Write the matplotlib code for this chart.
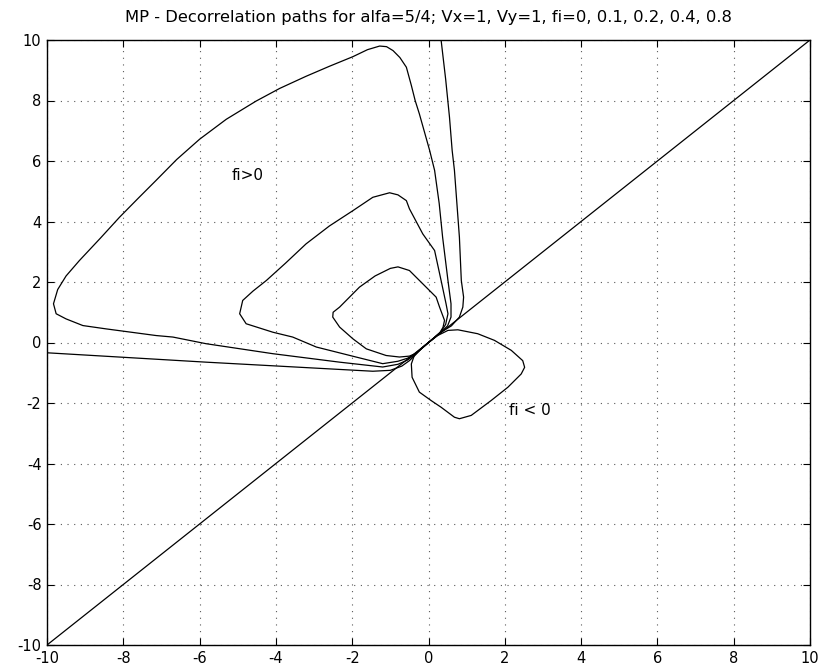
import matplotlib
matplotlib.use("Agg")
import matplotlib.pyplot as plt

plt.rcParams['font.family'] = ['DejaVu Sans']

title = "MP - Decorrelation paths for alfa=5/4; Vx=1, Vy=1, fi=0, 0.1, 0.2, 0.4, 0.8"
ticks = [-10, -8, -6, -4, -2, 0, 2, 4, 6, 8, 10]

# diagonal reference line
diag_x = [-10, 10]
diag_y = [-10, 10]

# open path (loop leaving the view)
open_x = [0.33, 0.45, 0.55, 0.62, 0.68, 0.75, 0.81, 0.86, 0.92, 0.90, 0.81, 0.60, 0.38, 0.18, 0.0,
          -0.2, -0.35, -0.5, -0.7, -1.0, -1.46, -5.83, -10.0]
open_y = [10.0, 8.7, 7.45, 6.35, 5.69, 4.5, 3.48, 2.05, 1.5, 1.17, 0.84, 0.55, 0.38, 0.19, 0.0,
          -0.22, -0.42, -0.6, -0.78, -0.92, -0.95, -0.65, -0.34]

# big loop
big_x = [0.0, -0.2, -0.38, -0.55, -0.8, -1.2, -2.33, -4.08, -5.83, -6.7, -7.14, -8.45, -9.06, -9.5,
         -9.76, -9.83, -9.72, -9.5, -9.15, -8.6, -8.1, -7.6, -7.14, -6.6, -6.0, -5.3, -4.52, -3.9,
         -3.21, -2.6, -1.98, -1.6, -1.28, -1.1, -0.93, -0.75, -0.58, -0.45, -0.35, -0.24, 0.03, 0.16,
         0.28, 0.37, 0.51, 0.59, 0.59, 0.5, 0.35, 0.17, 0.0]
big_y = [0.0, -0.22, -0.42, -0.58, -0.72, -0.81, -0.65, -0.37, -0.04, 0.18, 0.23, 0.45, 0.56, 0.78,
         0.95, 1.28, 1.75, 2.2, 2.71, 3.45, 4.14, 4.78, 5.36, 6.05, 6.72, 7.38, 7.98, 8.4,
         8.8, 9.13, 9.45, 9.68, 9.8, 9.78, 9.65, 9.42, 9.10, 8.5, 8.0, 7.56, 6.35, 5.69,
         4.6, 3.48, 2.05, 1.28, 0.84, 0.55, 0.37, 0.18, 0.0]

# middle loop
mid_x = [0.0, -0.2, -0.38, -0.55, -0.8, -1.2, -1.9, -2.94, -3.56, -4.08, -4.78, -4.95, -4.87, -4.6,
         -4.25, -3.75, -3.21, -2.6, -1.98, -1.46, -1.02, -0.8, -0.58, -0.5, -0.15, 0.16, 0.33, 0.46,
         0.51, 0.45, 0.33, 0.16, 0.0]
mid_y = [0.0, -0.22, -0.4, -0.52, -0.62, -0.70, -0.48, -0.15, 0.18, 0.34, 0.62, 0.95, 1.39, 1.7,
         2.05, 2.62, 3.26, 3.85, 4.36, 4.8, 4.95, 4.88, 4.69, 4.42, 3.59, 3.04, 2.05, 1.28,
         0.95, 0.6, 0.36, 0.17, 0.0]

# small loop
small_x = [0.0, -0.2, -0.35, -0.5, -0.76, -1.11, -1.63, -1.98, -2.33, -2.51, -2.5, -2.33, -2.07, -1.81,
           -1.4, -1.0, -0.8, -0.5, -0.15, 0.2, 0.29, 0.42, 0.38, 0.3, 0.15, 0.0]
small_y = [0.0, -0.21, -0.37, -0.45, -0.48, -0.43, -0.21, 0.12, 0.51, 0.84, 1.0, 1.17, 1.5, 1.83,
           2.2, 2.45, 2.5, 2.38, 1.94, 1.5, 1.17, 0.73, 0.5, 0.33, 0.16, 0.0]

# fi < 0 loop
neg_x = [0.0, -0.19, -0.37, -0.45, -0.43, -0.24, 0.07, 0.33, 0.68, 0.81, 1.12, 1.64, 2.08, 2.43, 2.52,
         2.47, 2.17, 1.73, 1.29, 0.77, 0.51, 0.24, 0.0]
neg_y = [0.0, -0.21, -0.42, -0.71, -1.15, -1.64, -1.92, -2.14, -2.47, -2.52, -2.41, -1.92, -1.48, -1.04,
         -0.82, -0.6, -0.26, 0.07, 0.29, 0.42, 0.40, 0.23, 0.0]

fig = plt.figure(figsize=(8.25, 6.68), dpi=100)
ax = fig.add_axes([47/825, 1 - 645/668, (810 - 47)/825, (645 - 40)/668])

ax.plot(diag_x, diag_y, color='black', lw=0.9)
for xs, ys in [(open_x, open_y), (big_x, big_y), (mid_x, mid_y), (small_x, small_y), (neg_x, neg_y)]:
    ax.plot(xs, ys, color='black', lw=0.9)

ax.set_xlim(-10, 10)
ax.set_ylim(-10, 10)
ax.set_xticks(ticks)
ax.set_yticks(ticks)
ax.set_xticklabels([str(t) for t in ticks])
ax.set_yticklabels([str(t) for t in ticks])
ax.tick_params(direction='in', top=True, right=True, length=5, width=0.8, labelsize=10.5, pad=4)
ax.grid(True, color='0.35', linestyle=(0, (1, 5)), linewidth=0.8)
for s in ax.spines.values():
    s.set_linewidth(1.0)

ax.set_title(title, fontsize=11.8, pad=13)
ax.text(-5.16, 5.52, "fi>0", fontsize=11, va='center', ha='left')
ax.text(2.1, -2.25, "fi < 0", fontsize=11, va='center', ha='left')

fig.savefig("out.png", dpi=100)
